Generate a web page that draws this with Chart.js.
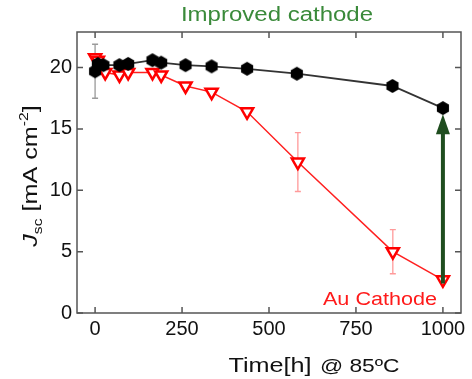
<!DOCTYPE html>
<html>
<head>
<meta charset="utf-8">
<script src="https://cdn.jsdelivr.net/npm/chart.js@4.4.0/dist/chart.umd.min.js"></script>
<style>
  html, body { margin: 0; padding: 0; background: #fff; }
  #wrap { width: 472px; height: 379px; position: relative; }
</style>
</head>
<body>
<div id="wrap"><canvas id="jscChart"></canvas></div>
<script>
// Datos
const improvedTime = [0, 8, 24, 70, 95, 165, 190, 260, 335, 437, 580, 855, 1000];
const improvedJsc  = [19.7, 20.3, 20.2, 20.2, 20.3, 20.6, 20.4, 20.2, 20.1, 19.9, 19.5, 18.5, 16.7];
const improvedErr  = [2.2, 0, 0, 0, 0, 0, 0, 0, 0, 0, 0, 0, 0];

const auTime = [0, 8, 29, 70, 95, 165, 190, 260, 335, 437, 583, 856, 1000];
const auJsc  = [20.8, 20.6, 19.6, 19.4, 19.6, 19.6, 19.4, 18.5, 18.0, 16.4, 12.3, 5.0, 2.7];
const auErr  = [0, 0, 0, 0, 0, 0, 0, 0, 0, 0, 2.4, 1.8, 0];

const xTicks = [0, 250, 500, 750, 1000];
const yTicks = [0, 5, 10, 15, 20];

const FONT = '"Liberation Sans", Arial, sans-serif';
const STRETCH = 1.2;   // el original tiene el texto algo ensanchado

// Marcador hexagonal relleno
function hexagon(r, color) {
    const c = document.createElement('canvas');
    const s = Math.ceil(r * 2 + 2);
    c.width = s; c.height = s;
    const g = c.getContext('2d');
    g.fillStyle = color;
    g.beginPath();
    for (let i = 0; i < 6; i++) {
        const a = Math.PI / 6 + i * Math.PI / 3;
        const px = s / 2 + r * Math.cos(a), py = s / 2 + r * Math.sin(a);
        if (i === 0) g.moveTo(px, py); else g.lineTo(px, py);
    }
    g.closePath();
    g.fill();
    return c;
}

// Texto por partes, centrado en (cx, cy) con estiramiento horizontal
function drawParts(ctx, parts, cx, cy, rot) {
    ctx.save();
    ctx.translate(cx, cy);
    if (rot) ctx.rotate(rot);
    ctx.scale(STRETCH, 1);
    ctx.textAlign = 'left';
    ctx.textBaseline = 'alphabetic';
    let total = 0;
    parts.forEach(p => { ctx.font = p.f; p.w = ctx.measureText(p.s).width + (p.gap || 0); total += p.w; });
    let px = -total / 2;
    parts.forEach(p => {
        ctx.font = p.f;
        ctx.fillStyle = p.c || '#111';
        ctx.fillText(p.s, px, p.dy || 0);
        px += p.w;
    });
    ctx.restore();
}

// Barras de error, marco con ticks internos, flecha y textos
const decorPlugin = {
    id: 'decor',
    beforeDatasetsDraw(chart) {
        const ctx = chart.ctx, xs = chart.scales.x, ys = chart.scales.y;
        const bars = [
            { t: improvedTime, v: improvedJsc, e: improvedErr, color: '#9a9a9a' },
            { t: auTime, v: auJsc, e: auErr, color: '#ff9a9a' }
        ];
        ctx.save();
        ctx.lineWidth = 1.3;
        bars.forEach(b => {
            ctx.strokeStyle = b.color;
            b.t.forEach((t, i) => {
                if (!b.e[i]) return;
                const x = xs.getPixelForValue(t);
                const y1 = ys.getPixelForValue(b.v[i] + b.e[i]);
                const y2 = ys.getPixelForValue(b.v[i] - b.e[i]);
                ctx.beginPath();
                ctx.moveTo(x, y1); ctx.lineTo(x, y2);
                ctx.moveTo(x - 3, y1); ctx.lineTo(x + 3, y1);
                ctx.moveTo(x - 3, y2); ctx.lineTo(x + 3, y2);
                ctx.stroke();
            });
        });
        ctx.restore();
    },
    afterDraw(chart) {
        const ctx = chart.ctx, xs = chart.scales.x, ys = chart.scales.y;
        const a = chart.chartArea;
        ctx.save();
        // marco
        ctx.strokeStyle = '#555';
        ctx.lineWidth = 1.5;
        ctx.strokeRect(a.left, a.top, a.right - a.left, a.bottom - a.top);
        ctx.beginPath();
        xTicks.forEach(t => {
            const x = xs.getPixelForValue(t);
            ctx.moveTo(x, a.bottom); ctx.lineTo(x, a.bottom - 6);
            ctx.moveTo(x, a.top); ctx.lineTo(x, a.top + 6);
        });
        yTicks.forEach(v => {
            const y = ys.getPixelForValue(v);
            ctx.moveTo(a.left, y); ctx.lineTo(a.left + 6, y);
            ctx.moveTo(a.right, y); ctx.lineTo(a.right - 6, y);
        });
        ctx.stroke();

        // flecha verde
        const ax = xs.getPixelForValue(1000);
        const yFrom = ys.getPixelForValue(2.4);
        const yTip = ys.getPixelForValue(16.2);
        ctx.strokeStyle = '#1f4d1f';
        ctx.fillStyle = '#1f4d1f';
        ctx.lineWidth = 4;
        ctx.beginPath();
        ctx.moveTo(ax, yFrom); ctx.lineTo(ax, yTip + 16);
        ctx.stroke();
        ctx.beginPath();
        ctx.moveTo(ax, yTip);
        ctx.lineTo(ax - 7, yTip + 20);
        ctx.lineTo(ax + 7, yTip + 20);
        ctx.closePath();
        ctx.fill();
        ctx.restore();

        // textos
        drawParts(ctx, [{ s: 'Improved cathode', f: '20px ' + FONT, c: '#3a8a3a' }], 277, 21);
        drawParts(ctx, [{ s: 'Au Cathode', f: '18px ' + FONT, c: '#ff1a1a' }], 380, 305);

        // título eje x
        drawParts(ctx, [
            { s: 'Time[h]', f: '21px ' + FONT, gap: 7 },
            { s: '@ 85\u00BAC', f: '19px ' + FONT }
        ], 314, 372);

        // título eje y: J_sc [mA cm^-2]
        drawParts(ctx, [
            { s: 'J', f: 'italic 21px ' + FONT },
            { s: 'sc', f: '13px ' + FONT, dy: 5 },
            { s: ' [mA cm', f: '21px ' + FONT },
            { s: '-2', f: '13px ' + FONT, dy: -9 },
            { s: ']', f: '21px ' + FONT }
        ], 37, 176, -Math.PI / 2);
    }
};

const ctx = document.getElementById('jscChart').getContext('2d');
new Chart(ctx, {
    type: 'line',
    data: {
        datasets: [{
            label: 'Improved cathode',
            data: improvedTime.map((t, i) => ({ x: t, y: improvedJsc[i] })),
            borderColor: '#333',
            borderWidth: 1.8,
            pointStyle: hexagon(7, '#000'),
            pointRadius: 7,
            tension: 0
        }, {
            label: 'Au Cathode',
            data: auTime.map((t, i) => ({ x: t, y: auJsc[i] })),
            borderColor: '#ff2020',
            borderWidth: 1.5,
            pointStyle: 'triangle',
            pointRotation: 180,
            pointRadius: 7,
            pointBorderWidth: 2.5,
            pointBorderColor: '#ff0000',
            pointBackgroundColor: '#fff',
            tension: 0
        }]
    },
    options: {
        responsive: true,
        maintainAspectRatio: false,
        animation: false,
        layout: { padding: { top: 32, right: 11, left: 0, bottom: 0 } },
        plugins: {
            legend: { display: false },
            tooltip: { enabled: false }
        },
        scales: {
            x: {
                type: 'linear',
                min: -52,
                max: 1052,
                afterFit: s => { s.height = 66; },
                afterBuildTicks: s => { s.ticks = xTicks.map(v => ({ value: v })); },
                grid: { display: false, drawTicks: false },
                border: { display: false },
                ticks: {
                    padding: 4,
                    color: '#111',
                    font: { family: FONT, size: 20 },
                    callback: v => String(v)
                }
            },
            y: {
                min: 0,
                max: 22.9,
                afterFit: s => { s.width = 77; },
                afterBuildTicks: s => { s.ticks = yTicks.map(v => ({ value: v })); },
                grid: { display: false, drawTicks: false },
                border: { display: false },
                ticks: {
                    padding: 5,
                    color: '#111',
                    font: { family: FONT, size: 20 },
                    callback: v => String(v)
                }
            }
        }
    },
    plugins: [decorPlugin]
});
</script>
</body>
</html>
